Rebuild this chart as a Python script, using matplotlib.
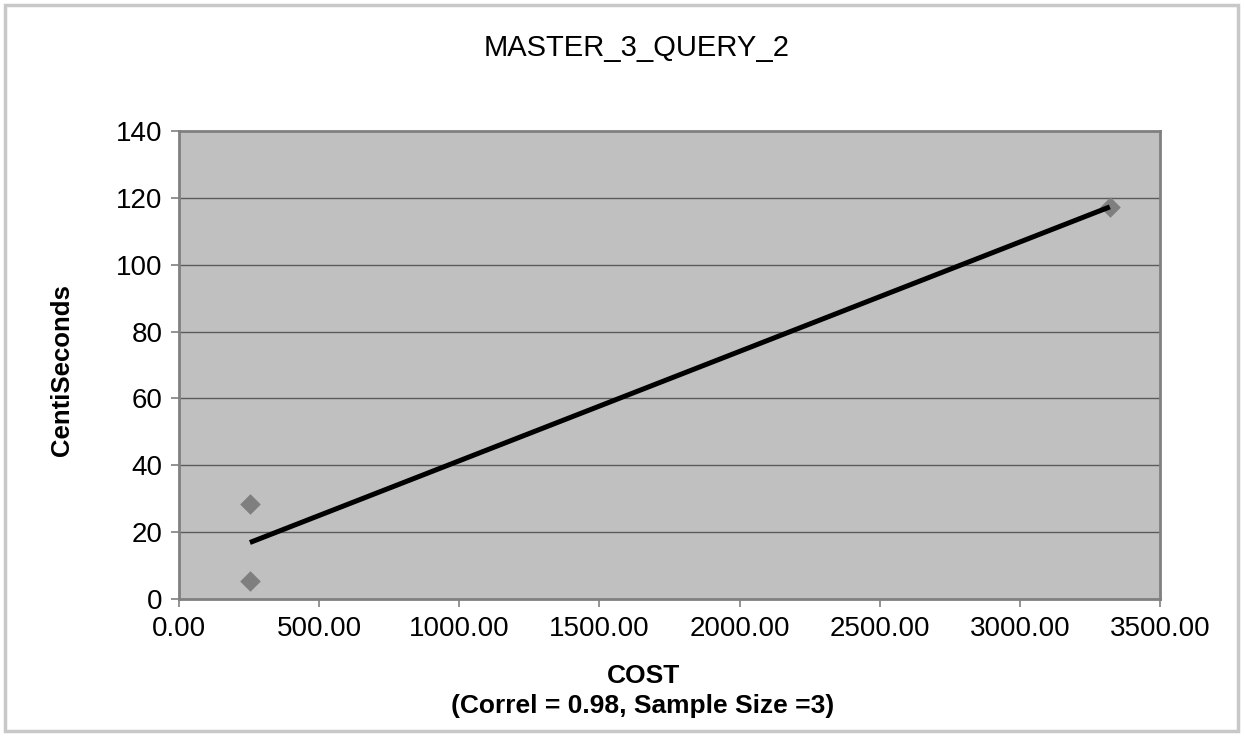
import numpy as np
import matplotlib
matplotlib.use("Agg")
import matplotlib.pyplot as plt
from matplotlib.patches import Rectangle

# Data
cost = [253, 253, 3321]
centiseconds = [28.4, 5.4, 117.3]
x_ticks = [0, 500, 1000, 1500, 2000, 2500, 3000, 3500]
y_ticks = [0, 20, 40, 60, 80, 100, 120, 140]
title = "MASTER_3_QUERY_2"
ylabel = "CentiSeconds"

plt.rcParams['font.family'] = ['Liberation Sans', 'DejaVu Sans']

fig = plt.figure(figsize=(12.44, 7.36), dpi=100)
fig.patch.set_facecolor('white')
fig.add_artist(Rectangle((5/1244, 5/736), 1233/1244, 726/736, transform=fig.transFigure,
                         fill=False, edgecolor='#c8c8c8', linewidth=2.5))

ax = fig.add_axes([179/1244, 1-599/736, 981/1244, 468/736])
ax.set_facecolor('#c0c0c0')

ax.set_xlim(0, 3500)
ax.set_ylim(0, 140)
ax.set_xticks(x_ticks)
ax.set_xticklabels([f"{v:.2f}" for v in x_ticks])
ax.set_yticks(y_ticks)
ax.set_yticklabels([str(v) for v in y_ticks])

for y in y_ticks[1:-1]:
    ax.axhline(y, color='#5a5a5a', linewidth=1.0, zorder=1)

ax.scatter(cost, centiseconds, marker='D', s=110, color='#7f7f7f', zorder=2, linewidths=0)

coef = np.polyfit(cost, centiseconds, 1)
xs = np.array([min(cost), max(cost)])
ax.plot(xs, np.polyval(coef, xs), color='black', linewidth=3.6, zorder=3, solid_capstyle='butt')

for s in ax.spines.values():
    s.set_color('#808080')
    s.set_linewidth(2.0)

ax.tick_params(axis='both', direction='out', length=6, width=1.2, color='#808080',
               labelsize=20, labelcolor='black', pad=6)

fig.text(637/1244, 1-48/736, title, ha='center', va='center', fontsize=21)
fig.text(643/1244, 1-676/736, "COST", ha='center', va='center', fontsize=19, fontweight='bold')
fig.text(643/1244, 1-706/736, "(Correl = 0.98, Sample Size =3)", ha='center', va='center',
         fontsize=19, fontweight='bold')
fig.text(62/1244, 1-370/736, ylabel, ha='center', va='center', rotation=90,
         fontsize=18.5, fontweight='bold')

fig.savefig("out.png", dpi=100)
